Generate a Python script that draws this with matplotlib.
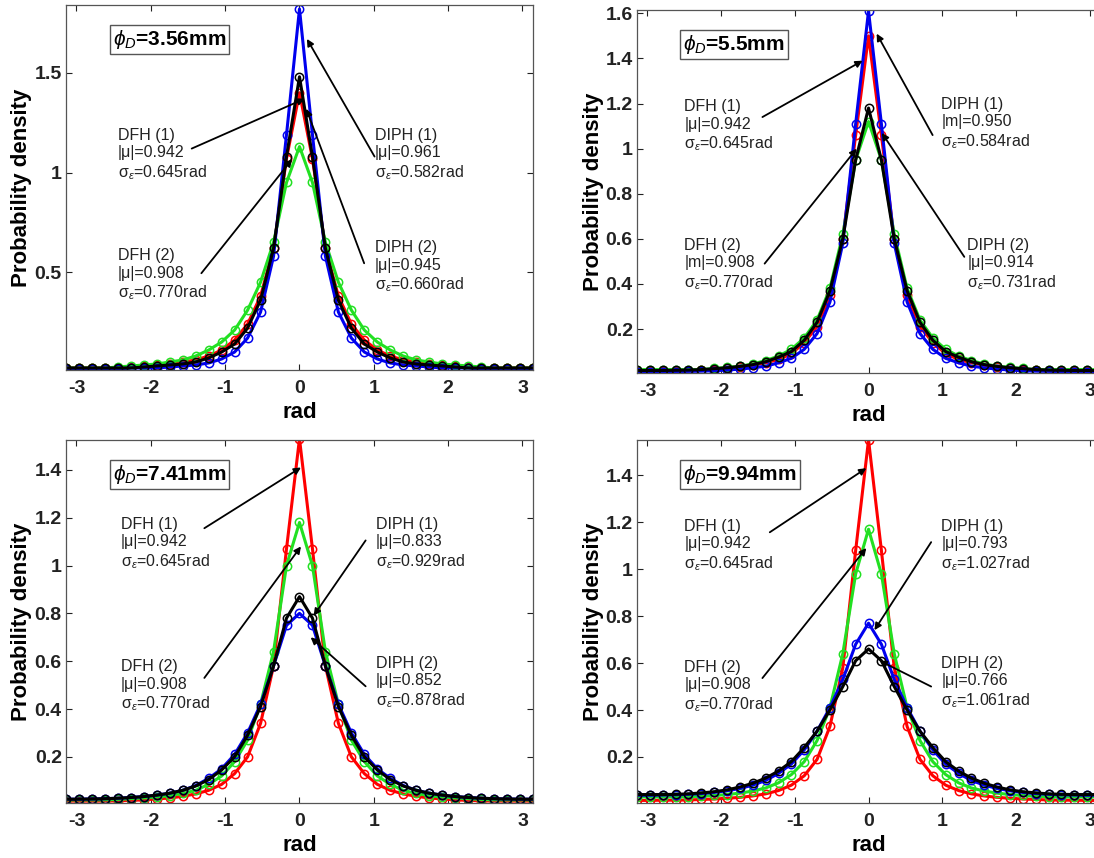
import numpy as np
import matplotlib
matplotlib.use("Agg")
import matplotlib.pyplot as plt

plt.rcParams['font.family'] = ['Liberation Sans', 'DejaVu Sans']
plt.rcParams['mathtext.fontset'] = 'custom'
plt.rcParams['mathtext.rm'] = 'Liberation Sans'
plt.rcParams['mathtext.it'] = 'Liberation Sans:italic'
plt.rcParams['mathtext.bf'] = 'Liberation Sans:bold'
plt.rcParams['axes.unicode_minus'] = False

# ---------------- data ----------------
x_rad = np.linspace(-np.pi, np.pi, 37)

# panel 1: phi_D = 3.56 mm
p1_dfh1 = [0.02, 0.02, 0.02, 0.02, 0.02, 0.025, 0.03, 0.035, 0.04, 0.05, 0.06, 0.08, 0.11, 0.16, 0.24, 0.38, 0.62, 1.07, 1.40,
           1.07, 0.62, 0.38, 0.24, 0.16, 0.11, 0.08, 0.06, 0.05, 0.04, 0.035, 0.03, 0.025, 0.02, 0.02, 0.02, 0.02, 0.02]
p1_dfh2 = [0.02, 0.02, 0.02, 0.02, 0.025, 0.03, 0.035, 0.04, 0.05, 0.06, 0.08, 0.11, 0.15, 0.21, 0.31, 0.45, 0.65, 0.95, 1.13,
           0.95, 0.65, 0.45, 0.31, 0.21, 0.15, 0.11, 0.08, 0.06, 0.05, 0.04, 0.035, 0.03, 0.025, 0.02, 0.02, 0.02, 0.02]
p1_diph1 = [0.015, 0.015, 0.015, 0.015, 0.015, 0.02, 0.02, 0.02, 0.025, 0.03, 0.035, 0.045, 0.065, 0.10, 0.17, 0.30, 0.58, 1.19, 1.82,
            1.19, 0.58, 0.30, 0.17, 0.10, 0.065, 0.045, 0.035, 0.03, 0.025, 0.02, 0.02, 0.02, 0.015, 0.015, 0.015, 0.015, 0.015]
p1_diph2 = [0.02, 0.02, 0.02, 0.02, 0.02, 0.02, 0.025, 0.03, 0.035, 0.04, 0.05, 0.07, 0.10, 0.14, 0.22, 0.36, 0.62, 1.08, 1.48,
            1.08, 0.62, 0.36, 0.22, 0.14, 0.10, 0.07, 0.05, 0.04, 0.035, 0.03, 0.025, 0.02, 0.02, 0.02, 0.02, 0.02, 0.02]

# panel 2: phi_D = 5.5 mm
p2_dfh1 = [0.015, 0.015, 0.015, 0.015, 0.015, 0.02, 0.02, 0.025, 0.03, 0.04, 0.05, 0.065, 0.09, 0.14, 0.21, 0.35, 0.60, 1.06, 1.50,
           1.06, 0.60, 0.35, 0.21, 0.14, 0.09, 0.065, 0.05, 0.04, 0.03, 0.025, 0.02, 0.02, 0.015, 0.015, 0.015, 0.015, 0.015]
p2_dfh2 = [0.02, 0.02, 0.02, 0.02, 0.02, 0.02, 0.025, 0.03, 0.035, 0.045, 0.06, 0.08, 0.11, 0.16, 0.24, 0.38, 0.62, 0.95, 1.12,
           0.95, 0.62, 0.38, 0.24, 0.16, 0.11, 0.08, 0.06, 0.045, 0.035, 0.03, 0.025, 0.02, 0.02, 0.02, 0.02, 0.02, 0.02]
p2_diph1 = [0.010, 0.010, 0.010, 0.011, 0.012, 0.013, 0.015, 0.018, 0.022, 0.028, 0.035, 0.05, 0.07, 0.11, 0.18, 0.32, 0.58, 1.11, 1.61,
            1.11, 0.58, 0.32, 0.18, 0.11, 0.07, 0.05, 0.035, 0.028, 0.022, 0.018, 0.015, 0.013, 0.012, 0.011, 0.010, 0.010, 0.010]
p2_diph2 = [0.016, 0.016, 0.016, 0.017, 0.018, 0.02, 0.024, 0.028, 0.034, 0.042, 0.055, 0.075, 0.10, 0.15, 0.23, 0.37, 0.60, 0.95, 1.18,
            0.95, 0.60, 0.37, 0.23, 0.15, 0.10, 0.075, 0.055, 0.042, 0.034, 0.028, 0.024, 0.02, 0.018, 0.017, 0.016, 0.016, 0.016]

# panel 3: phi_D = 7.41 mm
p3_dfh1 = [0.015, 0.015, 0.015, 0.015, 0.016, 0.018, 0.02, 0.024, 0.028, 0.035, 0.045, 0.06, 0.085, 0.13, 0.20, 0.34, 0.58, 1.07, 1.53,
           1.07, 0.58, 0.34, 0.20, 0.13, 0.085, 0.06, 0.045, 0.035, 0.028, 0.024, 0.02, 0.018, 0.016, 0.015, 0.015, 0.015, 0.015]
p3_dfh2 = [0.02, 0.02, 0.02, 0.02, 0.022, 0.025, 0.028, 0.032, 0.038, 0.047, 0.06, 0.085, 0.12, 0.18, 0.27, 0.42, 0.64, 1.00, 1.18,
           1.00, 0.64, 0.42, 0.27, 0.18, 0.12, 0.085, 0.06, 0.047, 0.038, 0.032, 0.028, 0.025, 0.022, 0.02, 0.02, 0.02, 0.02]
p3_diph1 = [0.023, 0.023, 0.024, 0.025, 0.027, 0.03, 0.034, 0.04, 0.048, 0.06, 0.08, 0.11, 0.15, 0.21, 0.30, 0.42, 0.58, 0.75, 0.80,
            0.75, 0.58, 0.42, 0.30, 0.21, 0.15, 0.11, 0.08, 0.06, 0.048, 0.04, 0.034, 0.03, 0.027, 0.025, 0.024, 0.023, 0.023]
p3_diph2 = [0.023, 0.023, 0.024, 0.025, 0.027, 0.03, 0.034, 0.04, 0.048, 0.06, 0.078, 0.105, 0.145, 0.20, 0.29, 0.41, 0.58, 0.78, 0.87,
            0.78, 0.58, 0.41, 0.29, 0.20, 0.145, 0.105, 0.078, 0.06, 0.048, 0.04, 0.034, 0.03, 0.027, 0.025, 0.024, 0.023, 0.023]

# panel 4: phi_D = 9.94 mm
p4_dfh1 = [0.015, 0.015, 0.016, 0.016, 0.017, 0.019, 0.021, 0.024, 0.028, 0.034, 0.043, 0.057, 0.08, 0.12, 0.19, 0.33, 0.58, 1.08, 1.55,
           1.08, 0.58, 0.33, 0.19, 0.12, 0.08, 0.057, 0.043, 0.034, 0.028, 0.024, 0.021, 0.019, 0.017, 0.016, 0.016, 0.015, 0.015]
p4_dfh2 = [0.03, 0.03, 0.03, 0.03, 0.031, 0.033, 0.036, 0.04, 0.046, 0.055, 0.068, 0.09, 0.125, 0.18, 0.27, 0.41, 0.64, 0.98, 1.17,
           0.98, 0.64, 0.41, 0.27, 0.18, 0.125, 0.09, 0.068, 0.055, 0.046, 0.04, 0.036, 0.033, 0.031, 0.03, 0.03, 0.03, 0.03]
p4_diph1 = [0.037, 0.037, 0.038, 0.039, 0.041, 0.044, 0.049, 0.056, 0.066, 0.08, 0.10, 0.13, 0.17, 0.23, 0.31, 0.41, 0.53, 0.68, 0.77,
            0.68, 0.53, 0.41, 0.31, 0.23, 0.17, 0.13, 0.10, 0.08, 0.066, 0.056, 0.049, 0.044, 0.041, 0.039, 0.038, 0.037, 0.037]
p4_diph2 = [0.04, 0.04, 0.04, 0.041, 0.043, 0.047, 0.052, 0.06, 0.072, 0.088, 0.11, 0.14, 0.18, 0.24, 0.31, 0.40, 0.50, 0.61, 0.66,
            0.61, 0.50, 0.40, 0.31, 0.24, 0.18, 0.14, 0.11, 0.088, 0.072, 0.06, 0.052, 0.047, 0.043, 0.041, 0.04, 0.04, 0.04]

panel_titles = [r'$\phi_D$=3.56mm', r'$\phi_D$=5.5mm', r'$\phi_D$=7.41mm', r'$\phi_D$=9.94mm']
panel_series = [
    [p1_dfh1, p1_dfh2, p1_diph1, p1_diph2],
    [p2_dfh1, p2_dfh2, p2_diph1, p2_diph2],
    [p3_dfh1, p3_dfh2, p3_diph1, p3_diph2],
    [p4_dfh1, p4_dfh2, p4_diph1, p4_diph2],
]
series_colors = ['#ff0000', '#22e022', '#0000ee', '#000000']
panel_ylims = [(0.01, 1.84), (0.005, 1.615), (0.007, 1.525), (0.004, 1.55)]
panel_yticks = [[0.5, 1, 1.5], [0.2, 0.4, 0.6, 0.8, 1, 1.2, 1.4, 1.6],
                [0.2, 0.4, 0.6, 0.8, 1, 1.2, 1.4], [0.2, 0.4, 0.6, 0.8, 1, 1.2, 1.4]]
x_ticks = [-3, -2, -1, 0, 1, 2, 3]

# annotation texts per panel: DFH(1), DFH(2), DIPH(1), DIPH(2)
panel_notes = [
    ['DFH (1)\n|μ|=0.942\nσ$_ε$=0.645rad', 'DFH (2)\n|μ|=0.908\nσ$_ε$=0.770rad',
     'DIPH (1)\n|μ|=0.961\nσ$_ε$=0.582rad', 'DIPH (2)\n|μ|=0.945\nσ$_ε$=0.660rad'],
    ['DFH (1)\n|μ|=0.942\nσ$_ε$=0.645rad', 'DFH (2)\n|m|=0.908\nσ$_ε$=0.770rad',
     'DIPH (1)\n|m|=0.950\nσ$_ε$=0.584rad', 'DIPH (2)\n|μ|=0.914\nσ$_ε$=0.731rad'],
    ['DFH (1)\n|μ|=0.942\nσ$_ε$=0.645rad', 'DFH (2)\n|μ|=0.908\nσ$_ε$=0.770rad',
     'DIPH (1)\n|μ|=0.833\nσ$_ε$=0.929rad', 'DIPH (2)\n|μ|=0.852\nσ$_ε$=0.878rad'],
    ['DFH (1)\n|μ|=0.942\nσ$_ε$=0.645rad', 'DFH (2)\n|μ|=0.908\nσ$_ε$=0.770rad',
     'DIPH (1)\n|μ|=0.793\nσ$_ε$=1.027rad', 'DIPH (2)\n|μ|=0.766\nσ$_ε$=1.061rad'],
]
# (text x, text y-center, arrow tail x, tail y, head x, head y) in data coords
panel_note_pos = [
    [(-2.44, 1.09, -1.45, 1.12, 0.07, 1.37), (-2.44, 0.485, -1.32, 0.495, -0.10, 1.066),
     (1.01, 1.09, 1.01, 1.08, 0.10, 1.67), (1.01, 0.525, 0.87, 0.545, 0.09, 1.32)],
    [(-2.50, 1.10, -1.44, 1.14, -0.08, 1.39), (-2.50, 0.485, -1.41, 0.49, -0.16, 1.0),
     (0.99, 1.11, 0.87, 1.06, 0.11, 1.51), (1.34, 0.485, 1.30, 0.52, 0.18, 1.07)],
    [(-2.40, 1.09, -1.28, 1.156, 0.02, 1.41), (-2.40, 0.495, -1.28, 0.53, 0.02, 1.08),
     (1.03, 1.09, 0.89, 1.105, 0.19, 0.79), (1.03, 0.51, 0.89, 0.495, 0.15, 0.70)],
    [(-2.50, 1.10, -1.34, 1.157, -0.03, 1.43), (-2.50, 0.498, -1.44, 0.536, -0.03, 1.09),
     (0.99, 1.10, 0.85, 1.115, 0.08, 0.74), (0.99, 0.515, 0.85, 0.50, 0.15, 0.61)],
]

# ---------------- figure ----------------
fig = plt.figure(figsize=(10.94, 8.58), dpi=100)
axes_rects = [
    [0.0603, 0.5688, 0.4269, 0.4254],
    [0.5823, 0.5653, 0.4232, 0.4231],
    [0.0603, 0.0641, 0.4269, 0.4231],
    [0.5823, 0.0641, 0.4232, 0.4231],
]
ylabel_pads = [2, 1, 2, 1]

for i in range(4):
    ax = fig.add_axes(axes_rects[i])
    for ys, col in zip(panel_series[i], series_colors):
        ax.plot(x_rad, ys, '-', color=col, lw=2.2, marker='o', ms=6,
                mfc='none', mec=col, mew=1.1)
    ax.set_xlim(-np.pi, np.pi)
    ax.set_ylim(*panel_ylims[i])
    ax.set_xticks(x_ticks)
    ax.set_yticks(panel_yticks[i])
    ax.set_yticklabels(['%g' % v for v in panel_yticks[i]])
    ax.tick_params(direction='in', top=True, right=True, labelsize=14,
                   length=4, width=0.8, colors='#222222')
    ax.tick_params(axis='x', pad=7)
    ax.tick_params(axis='y', pad=3)
    for lab in ax.get_xticklabels() + ax.get_yticklabels():
        lab.set_fontweight('bold')
    for sp in ax.spines.values():
        sp.set_color('#555555')
        sp.set_linewidth(0.9)
    ax.set_xlabel('rad', fontsize=16, fontweight='bold', labelpad=4)
    ax.set_ylabel('Probability density', fontsize=16, fontweight='bold',
                  labelpad=ylabel_pads[i])

    ax.text(0.10, 0.905, panel_titles[i], transform=ax.transAxes, fontsize=15,
            fontweight='bold', va='center', ha='left',
            bbox=dict(boxstyle='square,pad=0.15', fc='white', ec='#555555', lw=1.0))

    for note, (tx, ty, ax0, ay0, hx, hy) in zip(panel_notes[i], panel_note_pos[i]):
        ax.text(tx, ty, note, fontsize=11.5, va='center', ha='left', color='#222222',
                linespacing=1.2)
        ax.annotate('', xy=(hx, hy), xytext=(ax0, ay0),
                    arrowprops=dict(arrowstyle='-|>', color='black', lw=1.3,
                                    mutation_scale=10, shrinkA=0, shrinkB=0))

fig.savefig('out.png', dpi=100)
